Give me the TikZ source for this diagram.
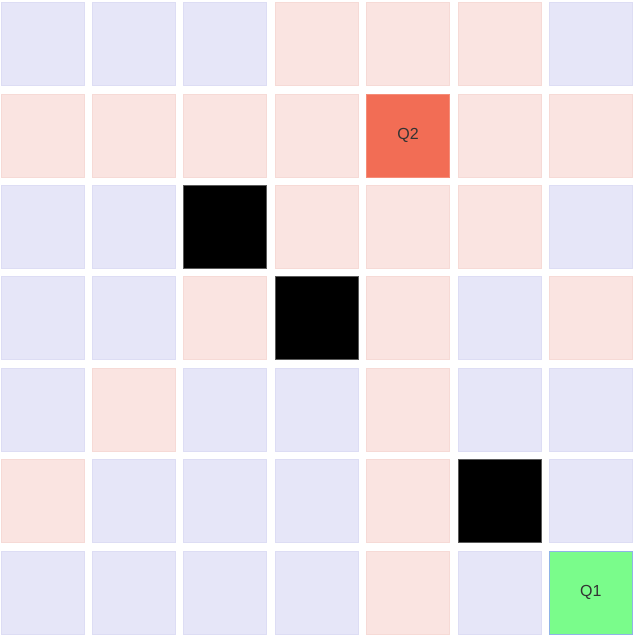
\documentclass[tikz,border=0pt]{standalone}
\usepackage{fontspec}
\setmainfont{Liberation Sans}
\usepackage{xcolor}
\usetikzlibrary{positioning}
\definecolor{gL}{HTML}{E6E6F8}
\definecolor{gLline}{HTML}{DDDDF4}
\definecolor{gP}{HTML}{FAE4E1}
\definecolor{gPline}{HTML}{F6DAD6}
\definecolor{gW}{HTML}{000000}
\definecolor{gWline}{HTML}{5A5A5A}
\definecolor{gA}{HTML}{F26D55}
\definecolor{gAline}{HTML}{F58C78}
\definecolor{gG}{HTML}{7AFC8B}
\definecolor{gGline}{HTML}{8FB4E6}
\definecolor{LabelGray}{HTML}{333333}

\begin{document}
\begin{tikzpicture}[
  x=0.75pt, y=-0.75pt,
  cell/.style={
    rectangle,
    minimum size=62.25pt,
    inner sep=0pt,
    outer sep=0pt,
    line width=0.5pt
  },
  qlabel/.style={font=\fontsize{12}{14}\selectfont, text=LabelGray}
]
\useasboundingbox (0,0) rectangle (639,640);
% L lavender, P pink, W wall, A start, G goal
\foreach \r/\cells in {
  0/{L,L,L,P,P,P,L},
  1/{P,P,P,P,A,P,P},
  2/{L,L,W,P,P,P,L},
  3/{L,L,P,W,P,L,P},
  4/{L,P,L,L,P,L,L},
  5/{P,L,L,L,P,W,L},
  6/{L,L,L,L,P,L,G}}
  \foreach \k [count=\c from 0] in \cells
    \node[cell, fill=g\k, draw=g\k line] (c-\r-\c) at (42.5+91.4*\c, 44+91.4*\r) {};
\node[qlabel] (q2) at (c-1-4) {Q2};
\node[qlabel] (q1) at (c-6-6) {Q1};
\end{tikzpicture}
\end{document}
